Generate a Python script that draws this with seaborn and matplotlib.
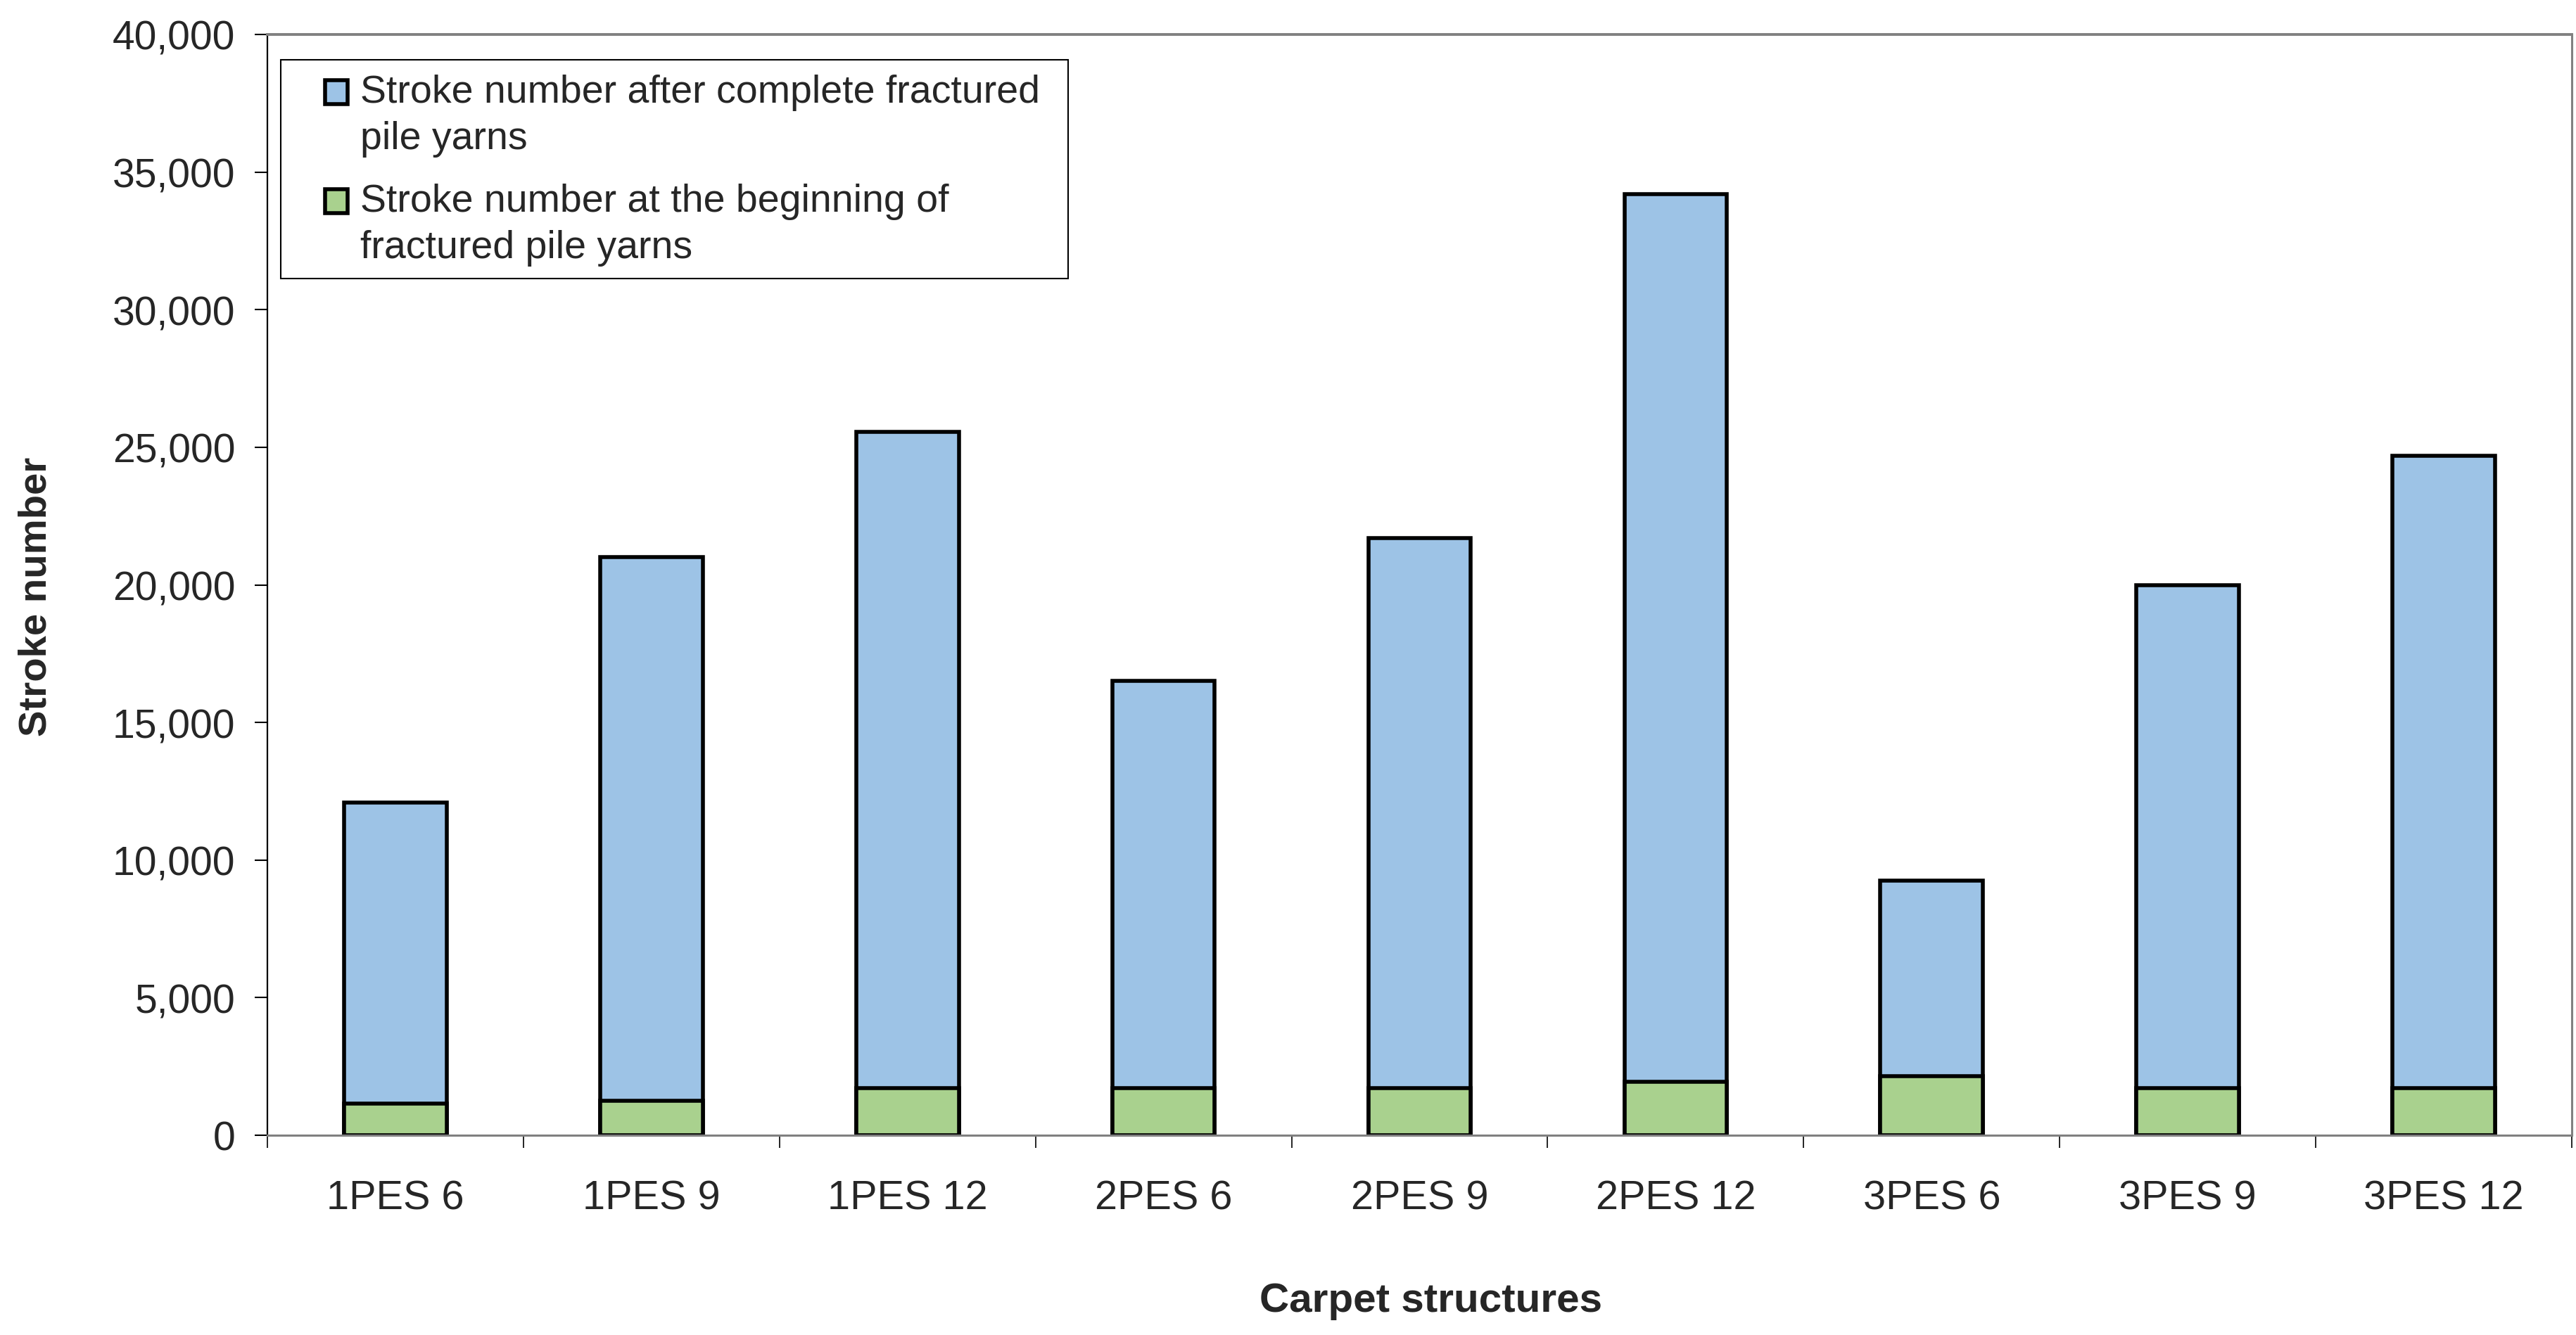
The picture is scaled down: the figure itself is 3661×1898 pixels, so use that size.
import matplotlib
matplotlib.use("Agg")
import matplotlib.pyplot as plt
import matplotlib.patches as mpatches
from matplotlib.container import BarContainer
from matplotlib.legend_handler import HandlerPatch, update_from_first_child
from matplotlib.ticker import FuncFormatter, FixedLocator
import seaborn as sns

categories = ["1PES 6", "1PES 9", "1PES 12", "2PES 6", "2PES 9", "2PES 12",
              "3PES 6", "3PES 9", "3PES 12"]
complete_fractured = [12100, 21000, 25550, 16500, 21700, 34200, 9250, 20000, 24700]
beginning_fractured = [1150, 1250, 1700, 1700, 1700, 1950, 2150, 1700, 1700]
label_complete = "Stroke number after complete fractured\npile yarns"
label_beginning = "Stroke number at the beginning of\nfractured pile yarns"
y_ticks = [0, 5000, 10000, 15000, 20000, 25000, 30000, 35000, 40000]

BLUE = "#9DC3E6"
GREEN = "#A9D18E"
GREY = "#808080"

sns.set_style("white")
plt.rcParams["font.family"] = ["Liberation Sans", "DejaVu Sans"]

W, H = 3662, 1899
fig = plt.figure(figsize=(W / 100, H / 100), dpi=100)
L, R, T, B = 380, 3655, 50, 1615
ax = fig.add_axes([L / W, 1 - B / H, (R - L) / W, (B - T) / H])

edge_lw = 4.0
sns.barplot(x=categories, y=complete_fractured, color=BLUE, width=0.4,
            edgecolor="black", linewidth=edge_lw, errorbar=None, ax=ax,
            label=label_complete, saturation=1)
sns.barplot(x=categories, y=beginning_fractured, color=GREEN, width=0.4,
            edgecolor="black", linewidth=edge_lw, errorbar=None, ax=ax,
            label=label_beginning, saturation=1)

ax.set_xlim(-0.5, len(categories) - 0.5)
ax.set_ylim(0, 40000)
ax.yaxis.set_major_locator(FixedLocator(y_ticks))
ax.yaxis.set_major_formatter(FuncFormatter(lambda v, p: f"{int(v):,}"))

ax.tick_params(axis="y", which="major", direction="out", length=13, width=1.5,
               color="black", labelsize=41, pad=20, left=True)
ax.tick_params(axis="x", which="major", length=0, labelsize=41.5, pad=45)
ax.set_xticks([i - 0.5 for i in range(len(categories) + 1)], minor=True)
ax.tick_params(axis="x", which="minor", direction="out", length=13, width=1.2,
               color="black", bottom=True)

for name, s in ax.spines.items():
    s.set_visible(True)
    s.set_color(GREY)
    s.set_linewidth(2.2)
ax.spines["left"].set_color("black")
ax.spines["left"].set_linewidth(1.6)
ax.spines["top"].set_linewidth(2.8)

ax.set_ylabel("Stroke number", fontsize=40.5, fontweight="bold")
ax.yaxis.set_label_coords((52 - L) / (R - L), 0.49)
ax.yaxis.label.set(va="center", ha="center")
ax.set_xlabel("Carpet structures", fontsize=42, fontweight="bold")
ax.xaxis.set_label_coords(0.505, (B - 1850) / (B - T))
ax.xaxis.label.set(va="center", ha="center")

leg_fs = 40
SHIFT = 0.60


def shifted_rect(legend, orig_handle, xdescent, ydescent, width, height, fontsize):
    return mpatches.Rectangle((-xdescent, -ydescent + SHIFT * fontsize), width, height)


handles, labels = ax.get_legend_handles_labels()
leg = ax.legend(handles, labels, loc="upper left",
                bbox_to_anchor=(462 / W, 1 - 106 / H), bbox_transform=fig.transFigure,
                borderaxespad=0, borderpad=0, fontsize=leg_fs, frameon=False,
                handlelength=0.575, handleheight=0.55, handletextpad=0.33,
                labelspacing=0.68,
                handler_map={BarContainer: HandlerPatch(patch_func=shifted_rect,
                                                        update_func=update_from_first_child)})
for t in leg.get_texts():
    t.set_linespacing(1.34)

# legend frame box (fixed size as in the original)
fig.patches.append(mpatches.Rectangle((399 / W, 1 - 397 / H), (1518 - 399) / W, (397 - 86) / H,
                                      transform=fig.transFigure, facecolor="none",
                                      edgecolor="black", linewidth=1.5, zorder=5))

fig.savefig("out.png", dpi=100, facecolor="white")
